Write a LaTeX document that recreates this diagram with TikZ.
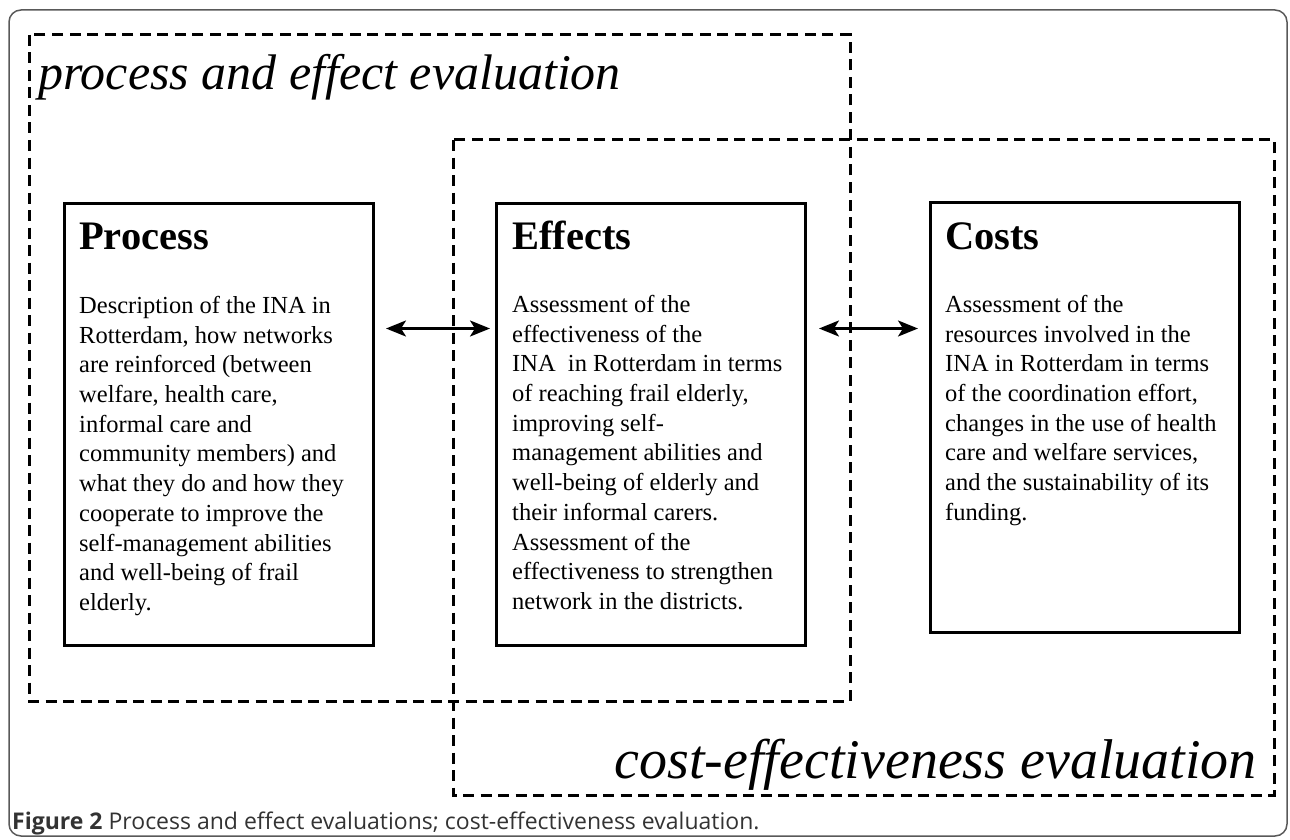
\documentclass[tikz,border=0pt]{standalone}
\usepackage{fontspec}
\setmainfont{Liberation Serif}
\newfontfamily\capfont{Open Sans}
\usetikzlibrary{arrows.meta,positioning}

\begin{document}
\begin{tikzpicture}[x=1pt,y=-1pt]
\useasboundingbox (0,0) rectangle (1290,840);
\draw[line width=1.5pt, draw=black!65, rounded corners=12pt] (9,10) rectangle (1287,836);

\begin{scope}[line width=3pt, dash pattern=on 11pt off 6.5pt]
    \draw (29,35) rectangle (850,701);
    \draw (453,140) rectangle (1274,795);
\end{scope}
\begin{scope}[every node/.style={inner sep=0pt}]
    \node[anchor=base west, font=\fontsize{50}{60}\selectfont\itshape] (peval) at (38,90) {process and effect evaluation};
    \node[anchor=base east, font=\fontsize{56}{66}\selectfont\itshape] (ceval) at (1257,778) {cost-effectiveness evaluation};
\end{scope}
\begin{scope}[every node/.style={rectangle, draw, line width=3pt, anchor=north west,
              inner sep=0pt, minimum width=309pt, minimum height=442pt}]
    \node (proc) at (63,202) {};
    \node (eff) at (495,202) {};
    \node[minimum height=430pt] (cost) at (929,201) {};
\end{scope}
\begin{scope}[every node/.style={font=\fontsize{40.5}{48}\selectfont\bfseries, anchor=base west, inner sep=0pt}]
    \node (procT) at ([xshift=16pt,yshift=-47pt]proc.north west) {Process};
    \node (effT) at ([xshift=17pt,yshift=-47pt]eff.north west) {Effects};
    \node (costT) at ([xshift=16pt,yshift=-48pt]cost.north west) {Costs};
\end{scope}
\begin{scope}[every node/.style={font=\fontsize{24.5}{29.7}\selectfont, align=left, anchor=north west, inner sep=0pt}]
    \node (procB) at ([xshift=16pt,yshift=-94pt]proc.north west) {Description of the INA in\\
        Rotterdam, how networks\\ are reinforced (between\\ welfare, health care,\\
        informal care and\\ community members) and\\ what they do and how they\\
        cooperate to improve the\\ self-management abilities\\ and well-being of frail\\ elderly.};
    \node (effB) at ([xshift=17pt,yshift=-93pt]eff.north west) {Assessment of the\\
        effectiveness of the\\ INA\ \ in Rotterdam in terms\\ of reaching frail elderly,\\
        improving self-\\ management abilities and\\ well-being of elderly and\\
        their informal carers.\\ Assessment of the\\ effectiveness to strengthen\\
        network in the districts.};
    \node (costB) at ([xshift=16pt,yshift=-94pt]cost.north west) {Assessment of the\\
        resources involved in the\\ INA in Rotterdam in terms\\ of the coordination effort,\\
        changes in the use of health\\ care and welfare services,\\
        and the sustainability of its\\ funding.};
\end{scope}
\begin{scope}[>={Stealth[length=20pt,width=16pt,inset=5pt]},
              every edge/.style={draw, line width=2.6pt}]
    \path [<->] ([yshift=96pt]proc.east) edge[shorten <=11pt, shorten >=5pt] ([yshift=96pt]eff.west);
    \path [<->] ([yshift=96pt]eff.east) edge[shorten <=12pt, shorten >=11pt] ([yshift=89pt]cost.west);
\end{scope}
\node[font=\capfont\fontsize{23}{28}\selectfont, text=black!80, anchor=base west, inner sep=0pt]
    (caption) at (12,829) {\textbf{Figure 2} Process and effect evaluations; cost-effectiveness evaluation.};
\end{tikzpicture}
\end{document}
